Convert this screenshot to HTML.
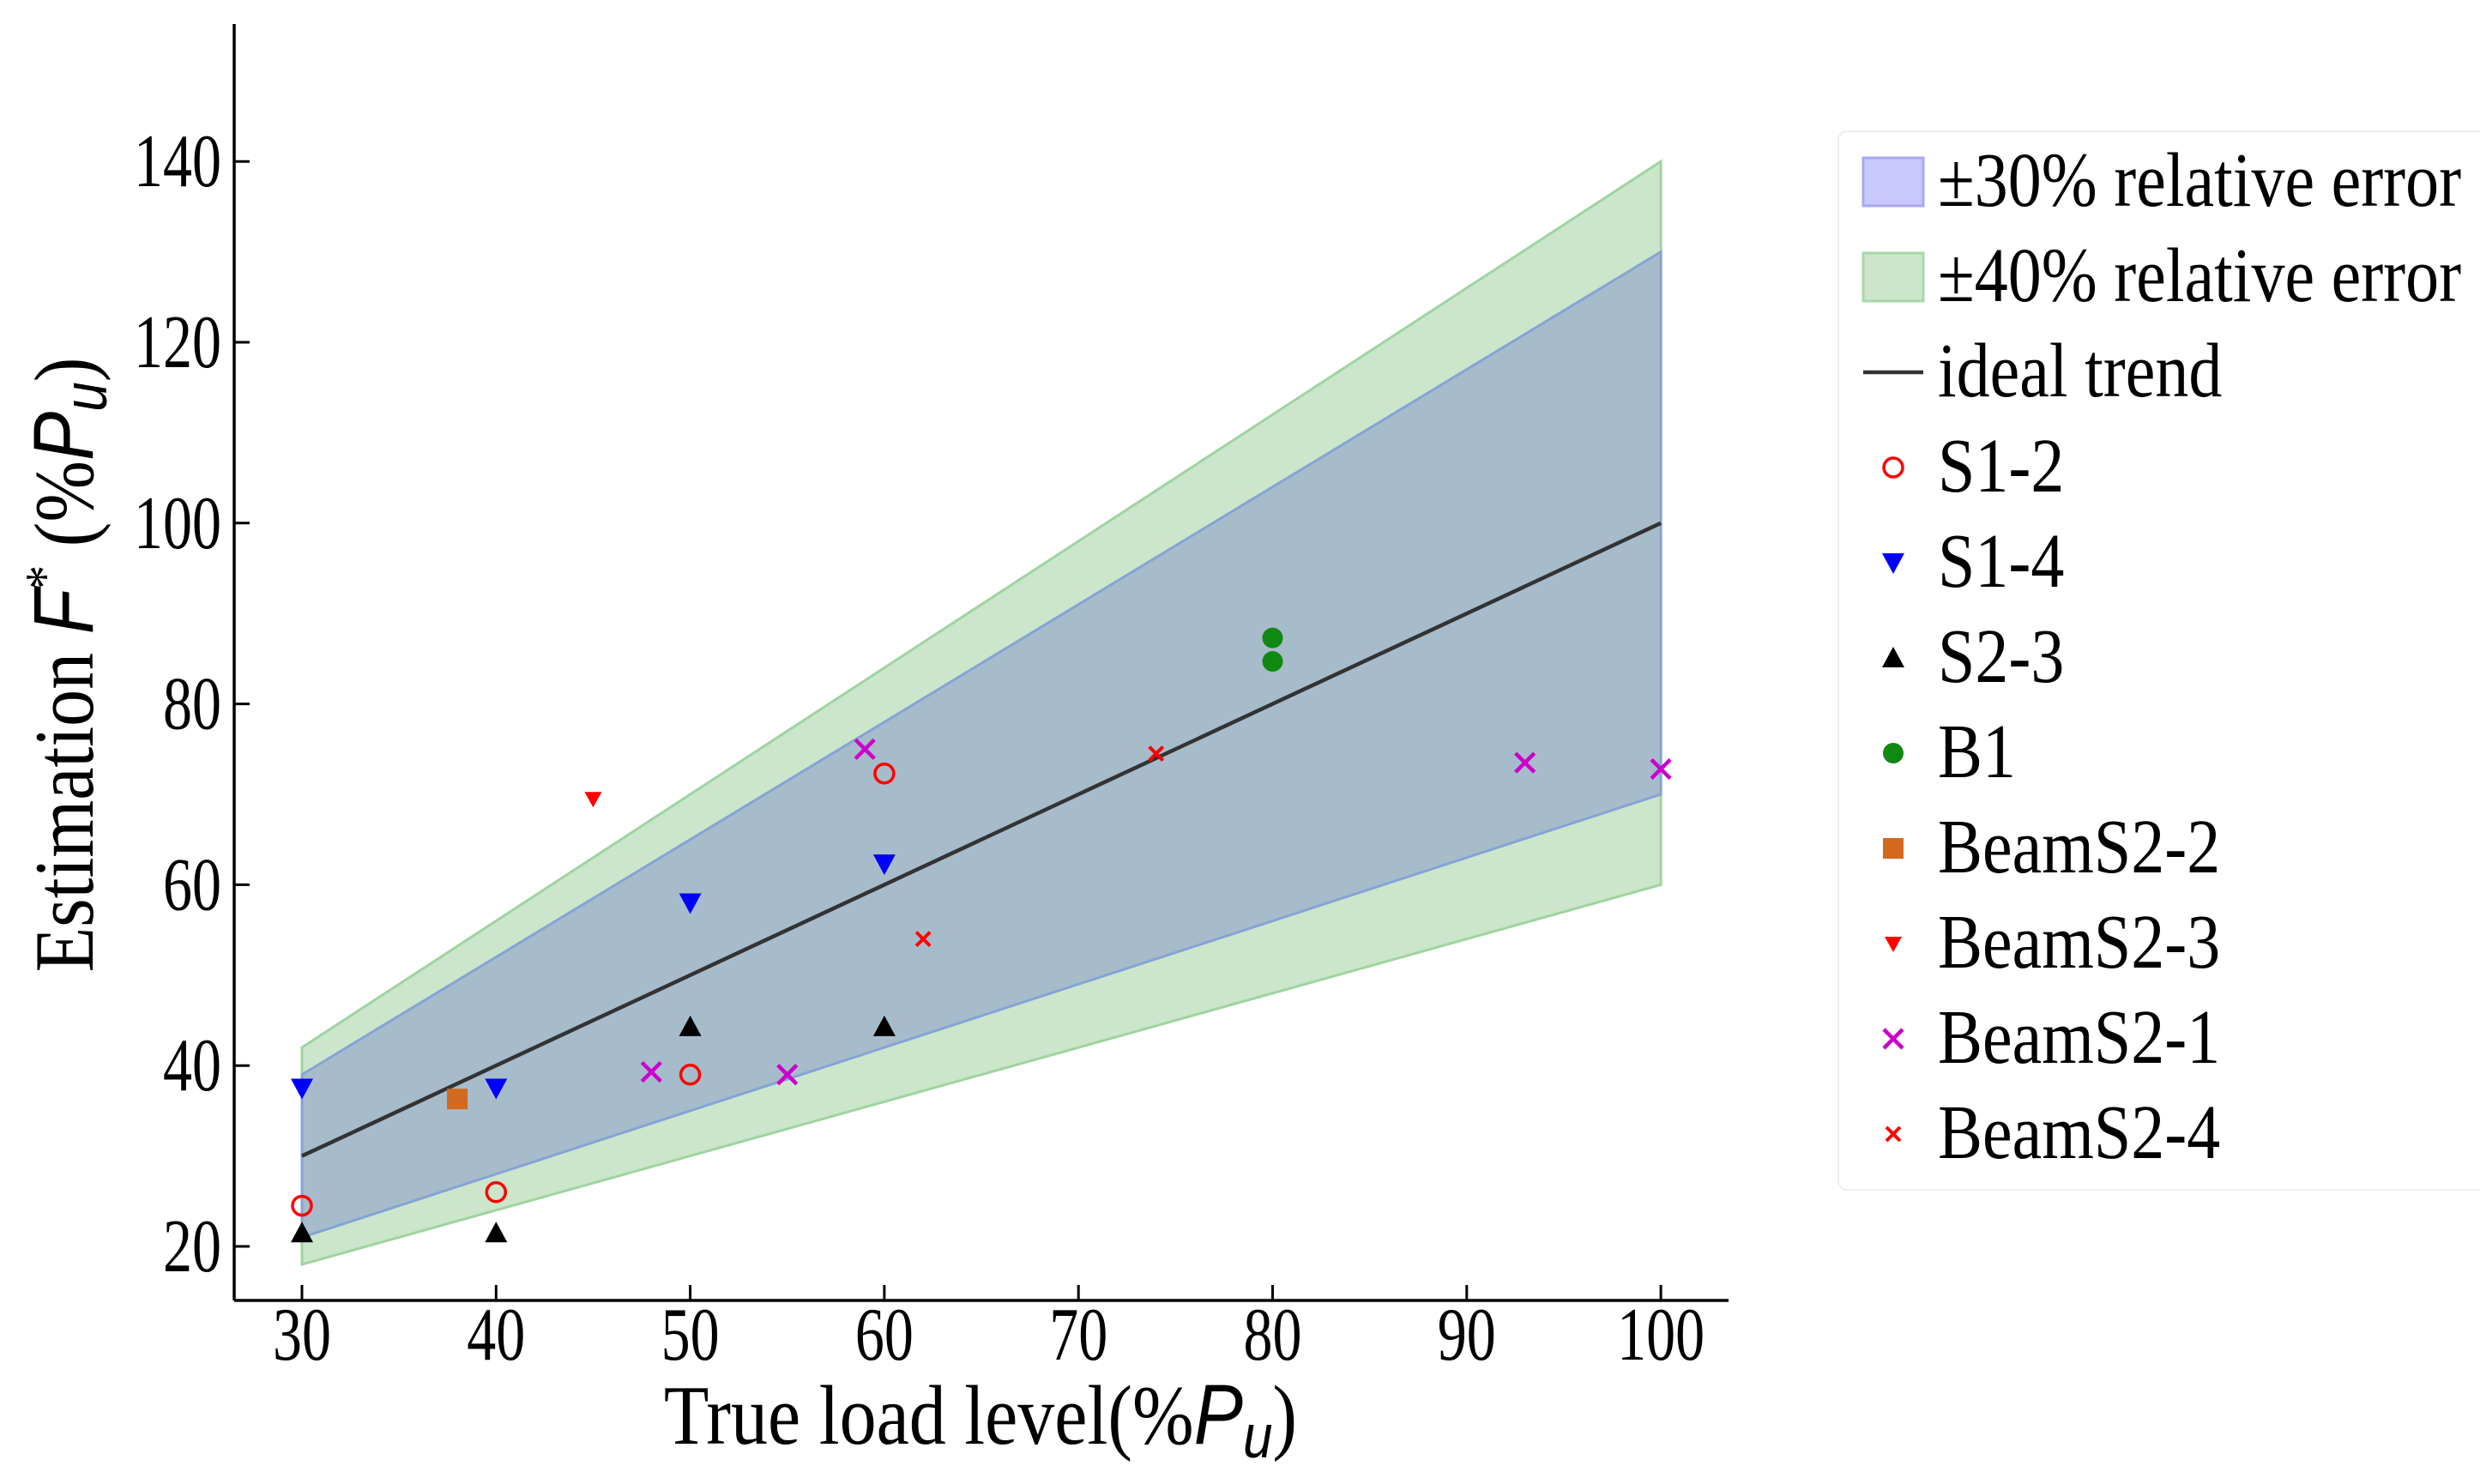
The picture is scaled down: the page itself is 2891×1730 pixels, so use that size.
<!DOCTYPE html>
<html><head><meta charset="utf-8"><style>
html,body{margin:0;padding:0;background:#fff}
svg{display:block;font-family:"Liberation Serif",serif}
</style></head><body>
<svg id="chart" width="2891" height="1730" viewBox="0 0 2891 1730">
<g id="bands"></g>
<g id="axes"></g>
<g id="points"></g>
<g id="legend"></g>
</svg>
<script>
const xTicks=[30,40,50,60,70,80,90,100];
const yTicks=[20,40,60,80,100,120,140];
const bandX=[30,100];
const s12X=[30,40,50,60], s12Y=[24.5,26,39,72.3];
const s14X=[30,40,50,60], s14Y=[37.5,37.5,58,62.3];
const s23X=[30,40,50,60], s23Y=[21.5,21.5,44.3,44.3];
const b1X=[80,80], b1Y=[87.3,84.7];
const bs22X=[38], bs22Y=[36.3];
const bs23X=[45], bs23Y=[69.5];
const bs21X=[48,55,59,93,100], bs21Y=[39.3,39,75,73.5,72.8];
const bs24X=[62,74], bs24Y=[54,74.5];

const NS="http://www.w3.org/2000/svg";
const sx=v=>352+(v-30)*22.63;
const sy=v=>1453-(v-20)*10.54;
function mk(parent,tag,attrs){const e=document.createElementNS(NS,tag);for(const k in attrs)e.setAttribute(k,attrs[k]);parent.appendChild(e);return e;}
const bands=document.getElementById('bands'),axes=document.getElementById('axes'),pts=document.getElementById('points'),leg=document.getElementById('legend');

function band(f,fill,stroke,name){
  const a=bandX[0],b=bandX[1];
  const p=[[a,a*(1+f)],[b,b*(1+f)],[b,b*(1-f)],[a,a*(1-f)]].map(q=>sx(q[0])+','+sy(q[1])).join(' ');
  const e=mk(bands,'polygon',{points:p,fill:fill,stroke:stroke,'stroke-width':3});
  
  
}
band(0.4,'#cbe6cb','#9fd49f','band-40pct');
band(0.3,'#a6bccb','#86a3d6','band-30pct');
const ideal=mk(bands,'line',{x1:sx(bandX[0]),y1:sy(bandX[0]),x2:sx(bandX[1]),y2:sy(bandX[1]),stroke:'#333',"stroke-width":4.5});



// axes
const xa=mk(axes,'line',{x1:273,y1:1516,x2:2015,y2:1516,stroke:'#000','stroke-width':3.5});


const ya=mk(axes,'line',{x1:273,y1:28,x2:273,y2:1516,stroke:'#000','stroke-width':3.5});


xTicks.forEach(t=>{
  mk(axes,'line',{x1:sx(t),y1:1516,x2:sx(t),y2:1498,stroke:'#000','stroke-width':3});
  const e=mk(axes,'text',{x:0,y:0,'text-anchor':'middle','font-size':68,transform:`translate(${sx(t)},1585) scale(1,1.3)`});
  e.textContent=t;
  
  
});
yTicks.forEach(t=>{
  mk(axes,'line',{x1:273,y1:sy(t),x2:291,y2:sy(t),stroke:'#000','stroke-width':3});
  const e=mk(axes,'text',{x:0,y:0,'text-anchor':'end','font-size':68,transform:`translate(258,${sy(t)+29}) scale(1,1.3)`});
  e.textContent=t;
  
  
});
const xl=mk(axes,'text',{x:0,y:0,'text-anchor':'middle','font-size':86,transform:'translate(1143,1683) scale(1,1.15)'});
xl.innerHTML='True load level(%<tspan font-family="Liberation Sans" font-style="italic">P</tspan><tspan font-family="Liberation Sans" font-style="italic" font-size="62" dy="14">u</tspan><tspan dy="-14">)</tspan>';


const yl=mk(axes,'text',{x:0,y:0,'text-anchor':'middle','font-size':86,transform:'translate(108,775) rotate(-90) scale(1,1.15)'});
yl.innerHTML='Estimation <tspan font-family="Liberation Sans" font-style="italic">F</tspan><tspan font-size="56" dy="-30">*</tspan><tspan dy="30"> (%</tspan><tspan font-family="Liberation Sans" font-style="italic">P</tspan><tspan font-family="Liberation Sans" font-style="italic" font-size="62" dy="14">u</tspan><tspan dy="-14">)</tspan>';



// markers
function marker(g,type,x,y){
  let e;
  if(type==='circle')e=mk(g,'circle',{cx:x,cy:y,r:11,fill:'none',stroke:'#f00','stroke-width':3.5});
  else if(type==='tridown')e=mk(g,'polygon',{points:`${x-13},${y-11} ${x+13},${y-11} ${x},${y+13}`,fill:'#00f'});
  else if(type==='tridownsm')e=mk(g,'polygon',{points:`${x-10},${y-8} ${x+10},${y-8} ${x},${y+10}`,fill:'#f00'});
  else if(type==='triup')e=mk(g,'polygon',{points:`${x-13},${y+11} ${x+13},${y+11} ${x},${y-13}`,fill:'#000'});
  else if(type==='dot')e=mk(g,'circle',{cx:x,cy:y,r:12,fill:'#118811'});
  else if(type==='square')e=mk(g,'rect',{x:x-12,y:y-12,width:24,height:24,fill:'#d2691e'});
  else if(type==='x')e=mk(g,'path',{d:`M${x-11},${y-11}L${x+11},${y+11}M${x-11},${y+11}L${x+11},${y-11}`,stroke:'#c0c',"stroke-width":4.5});
  else if(type==='xsm')e=mk(g,'path',{d:`M${x-8},${y-8}L${x+8},${y+8}M${x-8},${y+8}L${x+8},${y-8}`,stroke:'#f00',"stroke-width":4});
  return e;
}
const series=[
 ['S1-2','circle',s12X,s12Y],['S1-4','tridown',s14X,s14Y],['S2-3','triup',s23X,s23Y],
 ['B1','dot',b1X,b1Y],['BeamS2-2','square',bs22X,bs22Y],['BeamS2-3','tridownsm',bs23X,bs23Y],
 ['BeamS2-1','x',bs21X,bs21Y],['BeamS2-4','xsm',bs24X,bs24Y]];
series.forEach(s=>{
  s[2].forEach((xv,i)=>{
    const e=marker(pts,s[1],sx(xv),sy(s[3][i]));
    
    
  });
});

// legend
const box=mk(leg,'rect',{x:2143,y:153,width:760,height:1234,rx:10,fill:'#fff',stroke:'#eee','stroke-width':2});


const rows=[['±30% relative error','p30'],['±40% relative error','p40'],['ideal trend','line']].concat(series.map(s=>[s[0],s[1]]));
rows.forEach((r,i)=>{
  const cy=212+i*111;
  const g=mk(leg,'g',{});
  
  
  if(r[1]==='p30')mk(g,'rect',{x:2172,y:cy-28,width:70,height:56,fill:'#c8c8fc',stroke:'#a8a8f8','stroke-width':3});
  else if(r[1]==='p40')mk(g,'rect',{x:2172,y:cy-28,width:70,height:56,fill:'#cbe6cb',stroke:'#a8d8a8','stroke-width':3});
  else if(r[1]==='line')mk(g,'line',{x1:2172,y1:cy,x2:2242,y2:cy,stroke:'#333','stroke-width':4.5});
  else marker(g,r[1],2207,cy);
  const t=mk(g,'text',{x:0,y:0,'font-size':78,transform:`translate(2259,${cy+28}) scale(1,1.15)`});
  t.textContent=r[0];
});
</script>
</body></html>
